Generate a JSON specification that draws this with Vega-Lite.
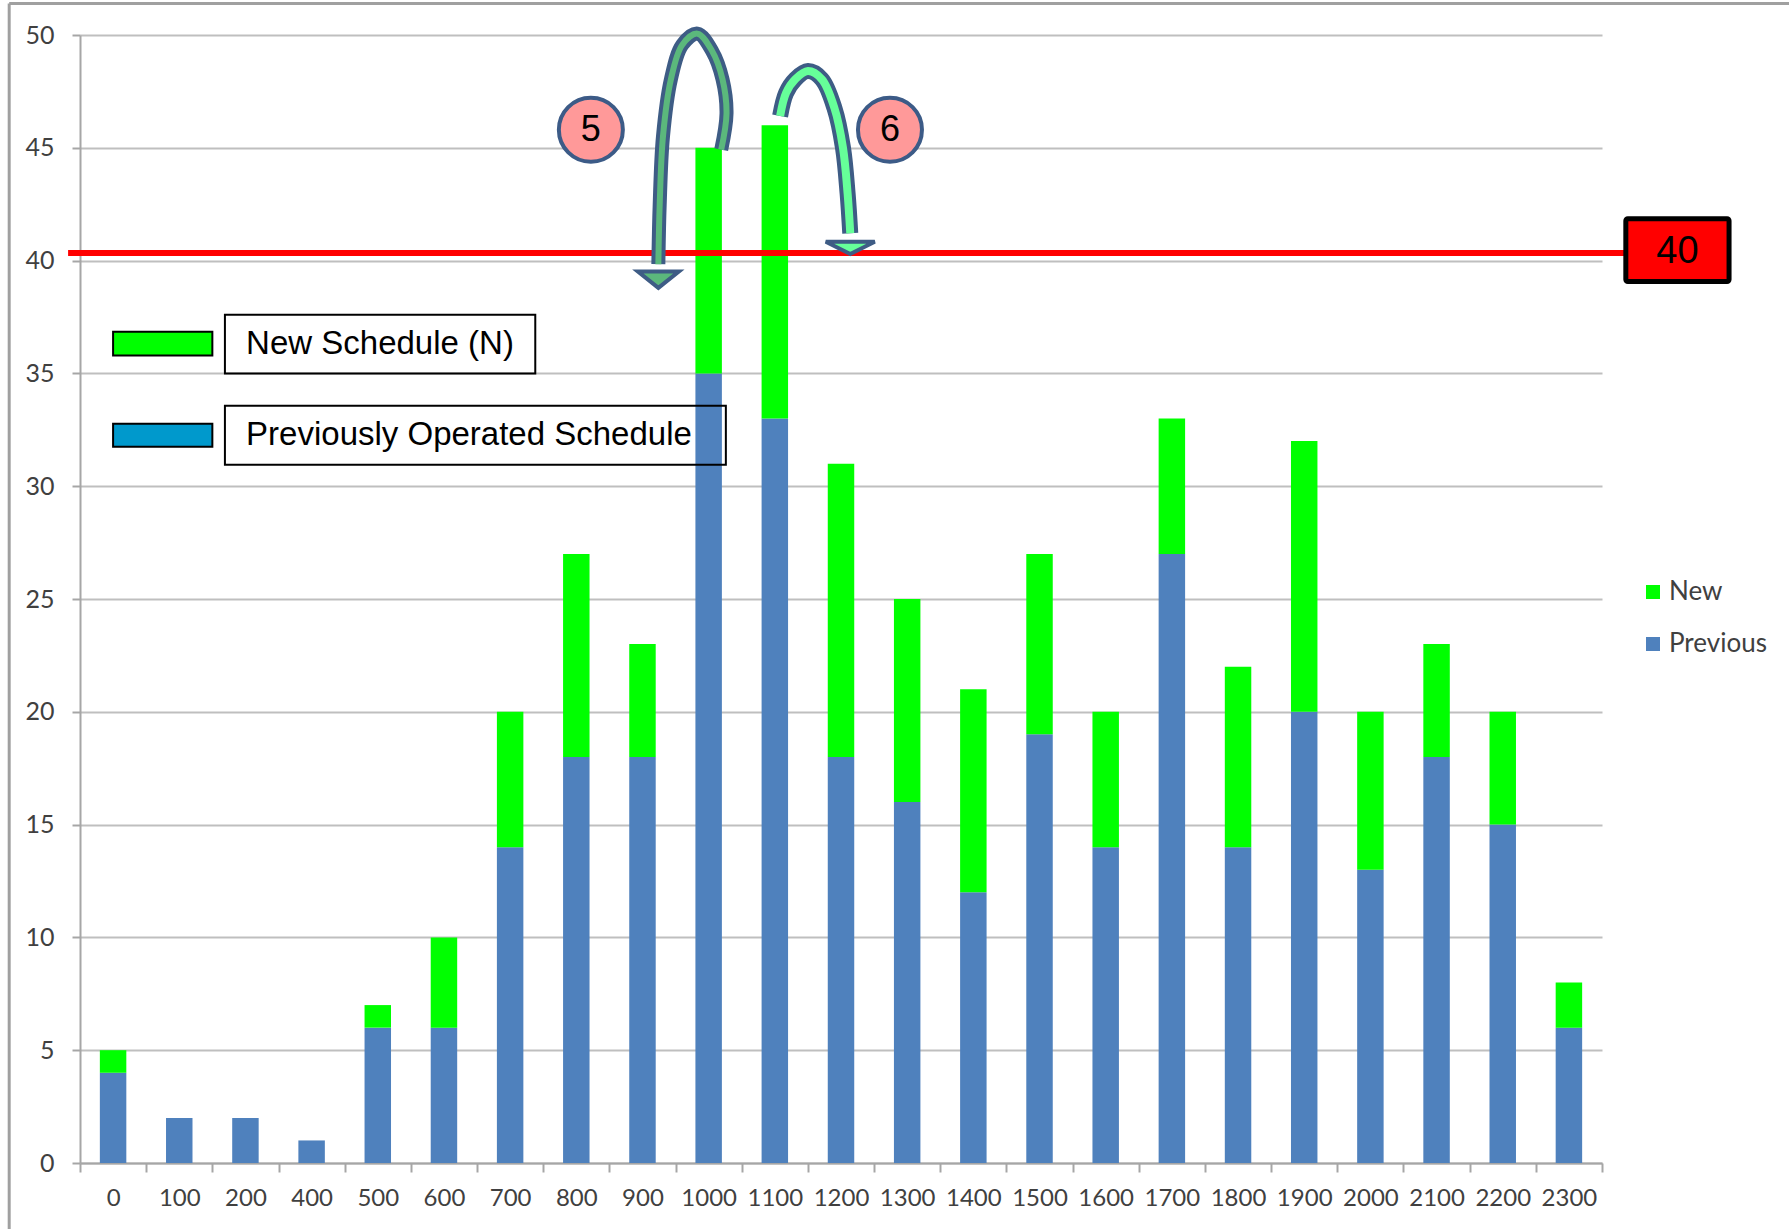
{
  "$schema": "https://vega.github.io/schema/vega-lite/v6.json",
  "autosize": {"type": "none"},
  "padding": {"left": 80, "top": 35, "right": 187, "bottom": 66},
  "width": 1522,
  "height": 1128,
  "background": "white",
  "config": {"view": {"stroke": null}},
  "datasets": {
    "bars": [
      {"t": "0", "series": "Previous", "n": 4}, {"t": "0", "series": "New", "n": 1},
      {"t": "100", "series": "Previous", "n": 2}, {"t": "100", "series": "New", "n": 0},
      {"t": "200", "series": "Previous", "n": 2}, {"t": "200", "series": "New", "n": 0},
      {"t": "400", "series": "Previous", "n": 1}, {"t": "400", "series": "New", "n": 0},
      {"t": "500", "series": "Previous", "n": 6}, {"t": "500", "series": "New", "n": 1},
      {"t": "600", "series": "Previous", "n": 6}, {"t": "600", "series": "New", "n": 4},
      {"t": "700", "series": "Previous", "n": 14}, {"t": "700", "series": "New", "n": 6},
      {"t": "800", "series": "Previous", "n": 18}, {"t": "800", "series": "New", "n": 9},
      {"t": "900", "series": "Previous", "n": 18}, {"t": "900", "series": "New", "n": 5},
      {"t": "1000", "series": "Previous", "n": 35}, {"t": "1000", "series": "New", "n": 10},
      {"t": "1100", "series": "Previous", "n": 33}, {"t": "1100", "series": "New", "n": 13},
      {"t": "1200", "series": "Previous", "n": 18}, {"t": "1200", "series": "New", "n": 13},
      {"t": "1300", "series": "Previous", "n": 16}, {"t": "1300", "series": "New", "n": 9},
      {"t": "1400", "series": "Previous", "n": 12}, {"t": "1400", "series": "New", "n": 9},
      {"t": "1500", "series": "Previous", "n": 19}, {"t": "1500", "series": "New", "n": 8},
      {"t": "1600", "series": "Previous", "n": 14}, {"t": "1600", "series": "New", "n": 6},
      {"t": "1700", "series": "Previous", "n": 27}, {"t": "1700", "series": "New", "n": 6},
      {"t": "1800", "series": "Previous", "n": 14}, {"t": "1800", "series": "New", "n": 8},
      {"t": "1900", "series": "Previous", "n": 20}, {"t": "1900", "series": "New", "n": 12},
      {"t": "2000", "series": "Previous", "n": 13}, {"t": "2000", "series": "New", "n": 7},
      {"t": "2100", "series": "Previous", "n": 18}, {"t": "2100", "series": "New", "n": 5},
      {"t": "2200", "series": "Previous", "n": 15}, {"t": "2200", "series": "New", "n": 5},
      {"t": "2300", "series": "Previous", "n": 6}, {"t": "2300", "series": "New", "n": 2}
    ],
    "arrow5": [
      {"i": 0, "u": 9.69, "v": 44.92}, {"i": 1, "u": 9.77, "v": 46.52}, {"i": 2, "u": 9.71, "v": 48.03},
      {"i": 3, "u": 9.55, "v": 49.3}, {"i": 4, "u": 9.33, "v": 50.06}, {"i": 5, "u": 9.1, "v": 49.56},
      {"i": 6, "u": 8.93, "v": 48.04}, {"i": 7, "u": 8.81, "v": 45.51}, {"i": 8, "u": 8.76, "v": 42.47},
      {"i": 9, "u": 8.74, "v": 39.84}
    ],
    "arrow6": [
      {"i": 0, "u": 10.58, "v": 46.41}, {"i": 1, "u": 10.67, "v": 47.43}, {"i": 2, "u": 10.81, "v": 48.04},
      {"i": 3, "u": 11.0, "v": 48.4}, {"i": 4, "u": 11.21, "v": 48.04}, {"i": 5, "u": 11.4, "v": 46.77},
      {"i": 6, "u": 11.53, "v": 45.0}, {"i": 7, "u": 11.6, "v": 42.97}, {"i": 8, "u": 11.64, "v": 41.21}
    ]
  },
  "layer": [
    {
      "data": {"name": "bars"},
      "mark": {"type": "bar", "width": {"band": 0.4}},
      "encoding": {
        "x": {
          "field": "t", "type": "ordinal",
          "sort": ["0","100","200","400","500","600","700","800","900","1000","1100","1200","1300","1400","1500","1600","1700","1800","1900","2000","2100","2200","2300"],
          "scale": {"paddingInner": 0, "paddingOuter": 0},
          "axis": {
            "title": null, "labelAngle": 0, "labelFont": "Lato", "labelFontSize": 24, "labelColor": "#404040",
            "domainColor": "#A6A6A6", "domainWidth": 2, "tickColor": "#A6A6A6", "tickWidth": 2, "tickSize": 9,
            "tickBand": "extent", "labelPadding": 14, "grid": false
          }
        },
        "y": {
          "field": "n", "type": "quantitative",
          "scale": {"domain": [0, 50], "nice": false},
          "axis": {
            "title": null, "values": [0,5,10,15,20,25,30,35,40,45,50], "labelFont": "Lato", "labelFontSize": 25,
            "labelColor": "#404040", "domainColor": "#A6A6A6", "domainWidth": 2, "tickColor": "#A6A6A6",
            "tickWidth": 2, "tickSize": 8, "labelPadding": 18, "grid": true, "gridColor": "#BFBFBF", "gridWidth": 2
          }
        },
        "color": {
          "field": "series", "type": "nominal",
          "scale": {"domain": ["New", "Previous"], "range": ["#00FF00", "#4F81BD"]},
          "legend": {
            "title": null, "orient": "none", "legendX": 1560, "legendY": 544, "symbolType": "square",
            "symbolSize": 196, "symbolStrokeWidth": 0, "labelFont": "Lato", "labelFontSize": 26,
            "labelColor": "#404040", "rowPadding": 26, "padding": 0, "labelOffset": 3
          }
        },
        "order": {"field": "series", "sort": "descending"}
      }
    },
    {
      "data": {"values": [{}]},
      "layer": [
        {
          "mark": {"type": "rule", "color": "#A0A0A0", "strokeWidth": 3},
          "encoding": {
            "x": {"datum": -1.07, "type": "quantitative", "scale": {"domain": [0, 23], "nice": false, "zero": false}, "axis": null},
            "x2": {"datum": 25.83},
            "y": {"datum": 51.4, "type": "quantitative", "scale": {"domain": [0, 50], "nice": false}, "axis": {"title": null}}
          }
        },
        {
          "mark": {"type": "rule", "color": "#A0A0A0", "strokeWidth": 3},
          "encoding": {
            "x": {"datum": -1.07, "type": "quantitative", "scale": {"domain": [0, 23], "nice": false, "zero": false}, "axis": null},
            "y": {"datum": 51.4, "type": "quantitative", "scale": {"domain": [0, 50], "nice": false}, "axis": {"title": null}},
            "y2": {"datum": -2.93}
          }
        },
        {
          "mark": {"type": "rule", "color": "#FF0000", "strokeWidth": 6},
          "encoding": {
            "x": {"datum": -0.18, "type": "quantitative", "scale": {"domain": [0, 23], "nice": false, "zero": false}, "axis": null},
            "x2": {"datum": 23.36},
            "y": {"datum": 40.34, "type": "quantitative", "scale": {"domain": [0, 50], "nice": false}, "axis": {"title": null}}
          }
        },
        {
          "mark": {"type": "rect", "fill": "#FF0000", "stroke": "#000000", "strokeWidth": 5, "cornerRadius": 2},
          "encoding": {
            "x": {"datum": 23.36, "type": "quantitative", "scale": {"domain": [0, 23], "nice": false, "zero": false}, "axis": null},
            "x2": {"datum": 24.92},
            "y": {"datum": 41.86, "type": "quantitative", "scale": {"domain": [0, 50], "nice": false}, "axis": {"title": null}},
            "y2": {"datum": 39.07}
          }
        },
        {
          "mark": {"type": "text", "text": "40", "font": "Liberation Sans", "fontSize": 38, "color": "#000000", "align": "center", "baseline": "middle"},
          "encoding": {
            "x": {"datum": 24.14, "type": "quantitative", "scale": {"domain": [0, 23], "nice": false, "zero": false}, "axis": null},
            "y": {"datum": 40.4, "type": "quantitative", "scale": {"domain": [0, 50], "nice": false}, "axis": {"title": null}}
          }
        },
        {
          "mark": {"type": "rect", "fill": "#00FF00", "stroke": "#000000", "strokeWidth": 2},
          "encoding": {
            "x": {"datum": 0.5, "type": "quantitative", "scale": {"domain": [0, 23], "nice": false, "zero": false}, "axis": null},
            "x2": {"datum": 2.0},
            "y": {"datum": 36.85, "type": "quantitative", "scale": {"domain": [0, 50], "nice": false}, "axis": {"title": null}},
            "y2": {"datum": 35.79}
          }
        },
        {
          "mark": {"type": "rect", "fill": "#0099CC", "stroke": "#000000", "strokeWidth": 2},
          "encoding": {
            "x": {"datum": 0.5, "type": "quantitative", "scale": {"domain": [0, 23], "nice": false, "zero": false}, "axis": null},
            "x2": {"datum": 2.0},
            "y": {"datum": 32.77, "type": "quantitative", "scale": {"domain": [0, 50], "nice": false}, "axis": {"title": null}},
            "y2": {"datum": 31.75}
          }
        },
        {
          "mark": {"type": "rect", "fill": "#FFFFFF", "fillOpacity": 0, "stroke": "#000000", "strokeWidth": 2},
          "encoding": {
            "x": {"datum": 2.19, "type": "quantitative", "scale": {"domain": [0, 23], "nice": false, "zero": false}, "axis": null},
            "x2": {"datum": 6.88},
            "y": {"datum": 37.6, "type": "quantitative", "scale": {"domain": [0, 50], "nice": false}, "axis": {"title": null}},
            "y2": {"datum": 35.0}
          }
        },
        {
          "mark": {"type": "rect", "fill": "#FFFFFF", "fillOpacity": 0, "stroke": "#000000", "strokeWidth": 2},
          "encoding": {
            "x": {"datum": 2.19, "type": "quantitative", "scale": {"domain": [0, 23], "nice": false, "zero": false}, "axis": null},
            "x2": {"datum": 9.76},
            "y": {"datum": 33.57, "type": "quantitative", "scale": {"domain": [0, 50], "nice": false}, "axis": {"title": null}},
            "y2": {"datum": 30.95}
          }
        },
        {
          "mark": {"type": "text", "text": "New Schedule (N)", "font": "Liberation Sans", "fontSize": 33, "color": "#000000", "align": "left", "baseline": "middle"},
          "encoding": {
            "x": {"datum": 2.51, "type": "quantitative", "scale": {"domain": [0, 23], "nice": false, "zero": false}, "axis": null},
            "y": {"datum": 36.3, "type": "quantitative", "scale": {"domain": [0, 50], "nice": false}, "axis": {"title": null}}
          }
        },
        {
          "mark": {"type": "text", "text": "Previously Operated Schedule", "font": "Liberation Sans", "fontSize": 33, "color": "#000000", "align": "left", "baseline": "middle"},
          "encoding": {
            "x": {"datum": 2.51, "type": "quantitative", "scale": {"domain": [0, 23], "nice": false, "zero": false}, "axis": null},
            "y": {"datum": 32.25, "type": "quantitative", "scale": {"domain": [0, 50], "nice": false}, "axis": {"title": null}}
          }
        },
        {
          "data": {"name": "arrow5"},
          "mark": {"type": "line", "interpolate": "catmull-rom", "color": "#3E5C85", "strokeWidth": 14, "strokeCap": "butt"},
          "encoding": {
            "x": {"field": "u", "type": "quantitative", "scale": {"domain": [0, 23], "nice": false, "zero": false}, "axis": null},
            "y": {"field": "v", "type": "quantitative", "scale": {"domain": [0, 50], "nice": false}, "axis": {"title": null}},
            "order": {"field": "i"}
          }
        },
        {
          "data": {"name": "arrow5"},
          "mark": {"type": "line", "interpolate": "catmull-rom", "color": "#5BB87C", "strokeWidth": 6, "strokeCap": "butt"},
          "encoding": {
            "x": {"field": "u", "type": "quantitative", "scale": {"domain": [0, 23], "nice": false, "zero": false}, "axis": null},
            "y": {"field": "v", "type": "quantitative", "scale": {"domain": [0, 50], "nice": false}, "axis": {"title": null}},
            "order": {"field": "i"}
          }
        },
        {
          "mark": {"type": "point", "shape": "M -1,-0.35 L 1,-0.35 L 0,0.45 Z", "size": 1681, "filled": true, "fill": "#5BB87C", "stroke": "#3E5C85", "strokeWidth": 4, "opacity": 1},
          "encoding": {
            "x": {"datum": 8.74, "type": "quantitative", "scale": {"domain": [0, 23], "nice": false, "zero": false}, "axis": null},
            "y": {"datum": 39.2, "type": "quantitative", "scale": {"domain": [0, 50], "nice": false}, "axis": {"title": null}}
          }
        },
        {
          "data": {"name": "arrow6"},
          "mark": {"type": "line", "interpolate": "catmull-rom", "color": "#3E5C85", "strokeWidth": 16, "strokeCap": "butt"},
          "encoding": {
            "x": {"field": "u", "type": "quantitative", "scale": {"domain": [0, 23], "nice": false, "zero": false}, "axis": null},
            "y": {"field": "v", "type": "quantitative", "scale": {"domain": [0, 50], "nice": false}, "axis": {"title": null}},
            "order": {"field": "i"}
          }
        },
        {
          "data": {"name": "arrow6"},
          "mark": {"type": "line", "interpolate": "catmull-rom", "color": "#66FF99", "strokeWidth": 8, "strokeCap": "butt"},
          "encoding": {
            "x": {"field": "u", "type": "quantitative", "scale": {"domain": [0, 23], "nice": false, "zero": false}, "axis": null},
            "y": {"field": "v", "type": "quantitative", "scale": {"domain": [0, 50], "nice": false}, "axis": {"title": null}},
            "order": {"field": "i"}
          }
        },
        {
          "mark": {"type": "point", "shape": "M -1,-0.2 L 1,-0.2 L 0,0.3 Z", "size": 2401, "filled": true, "fill": "#66FF99", "stroke": "#3E5C85", "strokeWidth": 4, "opacity": 1},
          "encoding": {
            "x": {"datum": 11.64, "type": "quantitative", "scale": {"domain": [0, 23], "nice": false, "zero": false}, "axis": null},
            "y": {"datum": 40.62, "type": "quantitative", "scale": {"domain": [0, 50], "nice": false}, "axis": {"title": null}}
          }
        },
        {
          "mark": {"type": "point", "shape": "circle", "size": 4096, "filled": true, "fill": "#FF9999", "stroke": "#3C5B87", "strokeWidth": 4, "opacity": 1},
          "encoding": {
            "x": {"datum": 7.72, "type": "quantitative", "scale": {"domain": [0, 23], "nice": false, "zero": false}, "axis": null},
            "y": {"datum": 45.8, "type": "quantitative", "scale": {"domain": [0, 50], "nice": false}, "axis": {"title": null}}
          }
        },
        {
          "mark": {"type": "point", "shape": "circle", "size": 4096, "filled": true, "fill": "#FF9999", "stroke": "#3C5B87", "strokeWidth": 4, "opacity": 1},
          "encoding": {
            "x": {"datum": 12.24, "type": "quantitative", "scale": {"domain": [0, 23], "nice": false, "zero": false}, "axis": null},
            "y": {"datum": 45.8, "type": "quantitative", "scale": {"domain": [0, 50], "nice": false}, "axis": {"title": null}}
          }
        },
        {
          "mark": {"type": "text", "text": "5", "font": "Liberation Sans", "fontSize": 36, "color": "#000000", "align": "center", "baseline": "middle"},
          "encoding": {
            "x": {"datum": 7.72, "type": "quantitative", "scale": {"domain": [0, 23], "nice": false, "zero": false}, "axis": null},
            "y": {"datum": 45.8, "type": "quantitative", "scale": {"domain": [0, 50], "nice": false}, "axis": {"title": null}}
          }
        },
        {
          "mark": {"type": "text", "text": "6", "font": "Liberation Sans", "fontSize": 36, "color": "#000000", "align": "center", "baseline": "middle"},
          "encoding": {
            "x": {"datum": 12.24, "type": "quantitative", "scale": {"domain": [0, 23], "nice": false, "zero": false}, "axis": null},
            "y": {"datum": 45.8, "type": "quantitative", "scale": {"domain": [0, 50], "nice": false}, "axis": {"title": null}}
          }
        }
      ]
    }
  ],
  "resolve": {"scale": {"x": "independent"}}
}
